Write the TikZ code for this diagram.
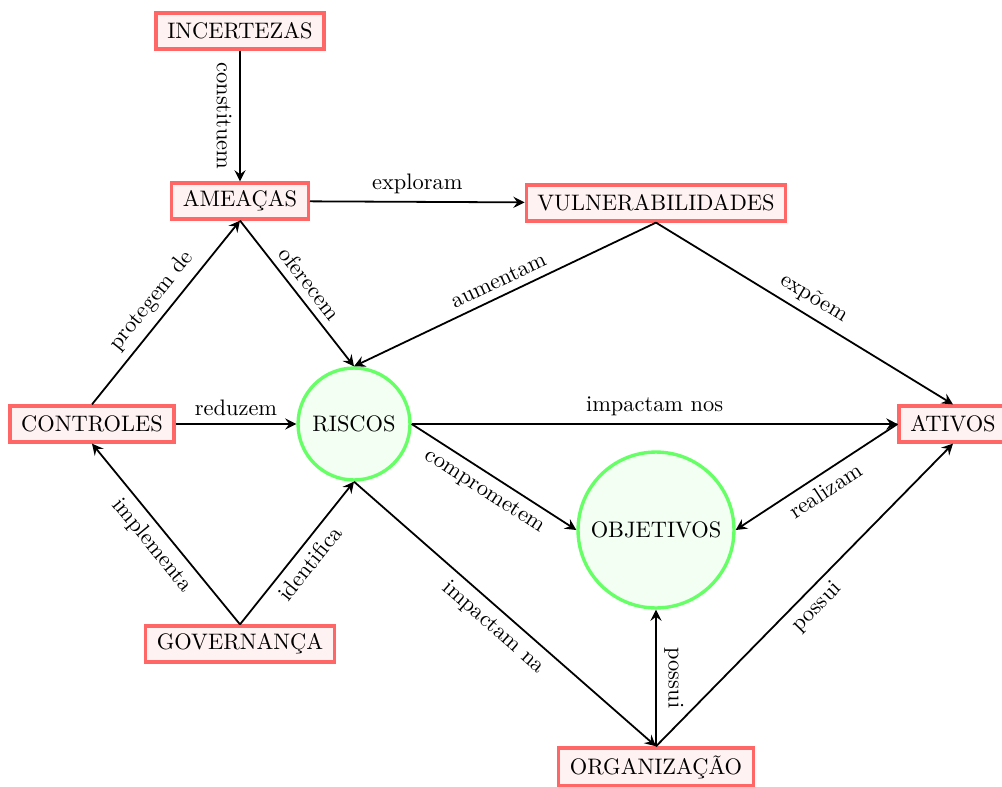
\documentclass[tikz,border=0pt]{standalone}
\usetikzlibrary{arrows.meta}
\begin{document}
\begin{tikzpicture}[x=0.01568cm,y=-0.01568cm,
  box/.style={draw=red!60, fill=red!5, line width=1.5pt, minimum height=16pt, inner xsep=5pt},
  circ/.style={circle, draw=green!60, fill=green!5, line width=1.5pt, inner sep=1pt},
  link/.style={-{Stealth[length=5pt, width=5pt, inset=1.8pt]}, thick}]
\useasboundingbox (0,0) rectangle (1002,787);

% concepts
\node[box] (inc) at (240,31) {INCERTEZAS};
\node[box] (ame) at (240,201) {AMEAÇAS};
\node[box] (vul) at (656,203) {VULNERABILIDADES};
\node[box] (con) at (92,424) {CONTROLES};
\node[box] (ati) at (953,424) {ATIVOS};
\node[box] (gov) at (240,644) {GOVERNANÇA};
\node[box] (org) at (656,767) {ORGANIZAÇÃO};
\node[circ, minimum size=1.756cm] (ris) at (354,424) {RISCOS};
\node[circ, minimum size=2.446cm] (obj) at (656,530) {OBJETIVOS};

% relations
\draw[link] (inc) -- node[sloped, below] {constituem} (ame);
\draw[link] (ame) -- node[above] {exploram} (vul);
\draw[link] (ame.south) -- node[sloped, above] {oferecem} (ris.north);
\draw[link] (vul.south) -- node[sloped, above] {aumentam} (ris.north);
\draw[link] (vul.south) -- node[sloped, above] {expõem} (ati.north);
\draw[link] (con.north) -- node[sloped, above] {protegem de} (ame.south);
\draw[link] (con) -- node[above] {reduzem} (ris);
\draw[link] (ris) -- node[above] {impactam nos} (ati);
\draw[link] (ris.east) -- node[sloped, below] {comprometem} (obj.west);
\draw[link] (ris.south) -- node[sloped, below] {impactam na} (org.north);
\draw[link] (gov.north) -- node[sloped, below] {implementa} (con.south);
\draw[link] (gov.north) -- node[sloped, below] {identifica} (ris.south);
\draw[link] (ati.west) -- node[sloped, below] {realizam} (obj.east);
\draw[link] (org.north) -- node[rotate=-90, anchor=south] {possui} (obj.south);
\draw[link] (org.north) -- node[sloped, below] {possui} (ati.south);
\end{tikzpicture}
\end{document}
